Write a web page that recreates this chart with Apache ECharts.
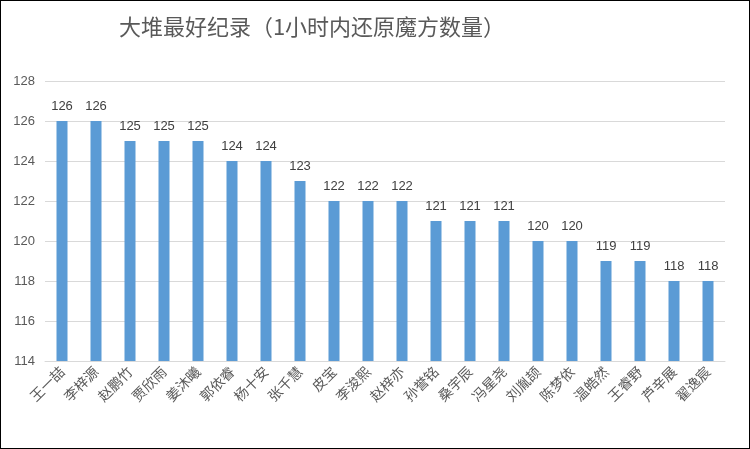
<!DOCTYPE html>
<html>
<head>
<meta charset="utf-8">
<script src="https://cdn.jsdelivr.net/npm/echarts@6/dist/echarts.min.js"></script>
<style>
html, body { margin: 0; padding: 0; background: #fff; }
#main { width: 750px; height: 449px; box-sizing: border-box; border: 1px solid #000; }
</style>
</head>
<body>
<div id="main"></div>
<script>
var names = ['王一喆', '李梓源', '赵鹏竹', '贾欣雨', '姜沐曦', '郭依睿', '杨十安', '张千慧', '皮宝', '李浚熙',
    '赵梓亦', '孙誉铭', '桑宇辰', '冯星尧', '刘胤颉', '陈梦依', '温皓然', '王睿野', '芦辛展', '翟逸宸'];
var counts = [126, 126, 125, 125, 125, 124, 124, 123, 122, 122, 122, 121, 121, 121, 120, 120, 119, 119, 118, 118];

var myChart = echarts.init(document.getElementById('main'));

option = {
    title: {
        text: '大堆最好纪录（1小时内还原魔方数量）',
        left: 306,
        textAlign: 'center',
        top: 10,
        textStyle: {
            fontFamily: 'Noto Sans CJK SC',
            fontSize: 22,
            fontWeight: 'normal',
            color: '#595959'
        }
    },
    grid: {
        left: 44,
        right: 24,
        top: 80,
        bottom: 87
    },
    xAxis: {
        type: 'category',
        data: names,
        axisTick: { show: false },
        axisLine: { lineStyle: { color: '#d9d9d9' } },
        axisLabel: {
            rotate: 45,
            interval: 0,
            fontFamily: 'Noto Sans CJK SC',
            fontSize: 14,
            color: '#595959',
            margin: 8
        }
    },
    yAxis: {
        type: 'value',
        min: 114,
        max: 128,
        interval: 2,
        axisLine: { show: false },
        axisTick: { show: false },
        splitLine: { lineStyle: { color: '#d9d9d9' } },
        axisLabel: {
            fontSize: 13,
            color: '#595959',
            margin: 10
        }
    },
    series: [
        {
            name: '数量',
            type: 'bar',
            data: counts,
            barWidth: 11,
            itemStyle: { color: '#5b9bd5' },
            label: {
                show: true,
                position: 'top',
                distance: 8,
                fontSize: 13,
                color: '#404040'
            }
        }
    ]
};

myChart.setOption(option);
</script>
</body>
</html>
